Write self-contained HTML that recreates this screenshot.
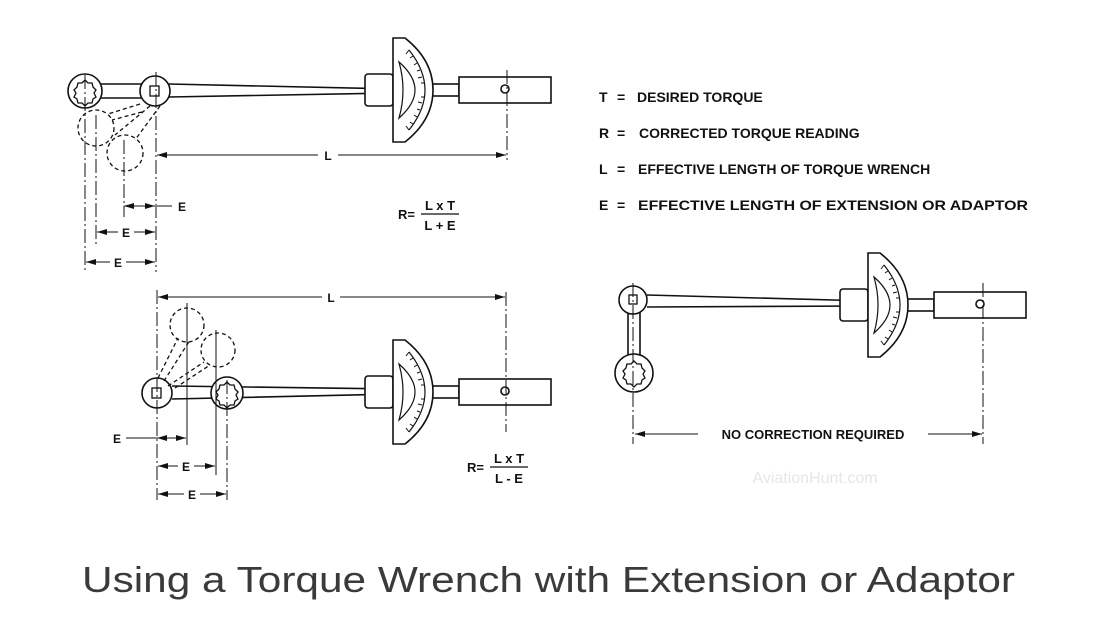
<!DOCTYPE html>
<html><head><meta charset="utf-8"><style>
html,body{margin:0;padding:0;background:#fff;}
svg{display:block;}
</style></head><body>
<svg width="1094" height="621" viewBox="0 0 1094 621" xmlns="http://www.w3.org/2000/svg" font-family="Liberation Sans, Arial, sans-serif">
<defs>
<marker id="ar" viewBox="0 0 10 6" refX="10" refY="3" markerWidth="10" markerHeight="6" orient="auto-start-reverse" markerUnits="userSpaceOnUse"><path d="M0,0 L10,3 L0,6 Z" fill="#111"/></marker>
<g id="body" fill="#fff" stroke="#111" stroke-width="1.6">
  <rect x="-28" y="-16" width="28" height="32" rx="3"/>
  <rect x="38" y="-6" width="28" height="12"/>
  <rect x="66" y="-13" width="92" height="26"/>
  <circle cx="112" cy="-1" r="4"/>
  <path d="M0,-52 L12,-52 Q40,-30 40,0 Q40,30 12,52 L0,52 Z"/>
  <path d="M16,-40 Q32,-20 32,0 Q32,20 16,40" fill="none" stroke-width="1.2"/>
  <path d="M16,-40 l-3,4 M20,-34 l-3,2 M24,-27 l-3,2 M27,-20 l-3,1 M29,-13 l-4,1 M31,-7 l-3,0 M31,7 l-3,0 M29,13 l-4,-1 M27,20 l-3,-1 M24,27 l-3,-2 M20,34 l-3,-2 M16,40 l-3,-4" stroke-width="1"/>
  <path d="M6,-28 Q22,-14 22,0 Q22,14 6,28 Q14,0 6,-28 Z" stroke-width="1.2"/>
</g>
</defs>

<!-- TOP WRENCH -->
<g stroke="#111" stroke-width="1.6" fill="none">
  <path d="M100,84 L142,84 M100,98 L142,98"/>
  <path d="M169,84 L395,89 M169,97 L395,93"/>
  <circle cx="85" cy="91" r="17" fill="#fff"/>
  <path d="M85,80 l3,3 4,0 1,4 3,3 -2,3 2,4 -3,2 -1,4 -4,0 -3,3 -3,-3 -4,0 -1,-4 -3,-2 2,-4 -2,-3 3,-3 1,-4 4,0 z" stroke-width="1.3"/>
  <circle cx="155" cy="91" r="15" fill="#fff"/>
  <rect x="150" y="86" width="9" height="10" stroke-width="1.3"/>
  <line x1="380" y1="91" x2="425" y2="91" stroke-width="1"/>
</g>
<use href="#body" x="393" y="90"/>
<g stroke="#111" stroke-width="1.3" fill="none" stroke-dasharray="4,3">
  <circle cx="96" cy="128" r="18"/>
  <circle cx="125" cy="153" r="18"/>
  <path d="M140,104 L108,114 M150,106 L115,135 M160,106 L135,140 M142,112 L112,120"/>
</g>
<g stroke="#111" stroke-width="1" fill="none">
  <path d="M85,75 L85,272 M96,115 L96,245 M124,140 L124,217 M156,72 L156,272" stroke-dasharray="14,3,2,3"/>
  <path d="M507,70 L507,160" stroke-dasharray="14,3,2,3"/>
  <path d="M318,155 L157,155" marker-end="url(#ar)"/>
  <path d="M338,155 L506,155" marker-end="url(#ar)"/>
  <path d="M124,206 L155,206" marker-start="url(#ar)" marker-end="url(#ar)"/>
  <path d="M157,206 L172,206"/>
  <path d="M118,232 L97,232" marker-end="url(#ar)"/><path d="M134,232 L155,232" marker-end="url(#ar)"/>
  <path d="M110,262 L86,262" marker-end="url(#ar)"/><path d="M126,262 L155,262" marker-end="url(#ar)"/>
</g>
<g font-size="12" fill="#111" text-anchor="middle" font-weight="bold">
  <text x="328" y="160">L</text>
  <text x="182" y="211">E</text>
  <text x="126" y="237">E</text>
  <text x="118" y="267">E</text>
</g>
<g font-size="13" fill="#111" font-weight="bold">
  <text x="398" y="219">R=</text>
  <text x="440" y="210" text-anchor="middle">L x T</text>
  <line x1="421" y1="214" x2="459" y2="214" stroke="#111" stroke-width="1.2"/>
  <text x="440" y="230" text-anchor="middle">L + E</text>
</g>

<!-- BOTTOM-LEFT WRENCH -->
<g stroke="#111" stroke-width="1.6" fill="none">
  <path d="M172,386 L395,389 M172,399 L395,394"/>
  <circle cx="157" cy="393" r="15" fill="#fff"/>
  <rect x="152" y="388" width="9" height="10" stroke-width="1.3"/>
  <circle cx="227" cy="393" r="16" fill="#fff"/>
  <path d="M227,382 l3,3 4,0 1,4 3,3 -2,3 2,4 -3,2 -1,4 -4,0 -3,3 -3,-3 -4,0 -1,-4 -3,-2 2,-4 -2,-3 3,-3 1,-4 4,0 z" stroke-width="1.3"/>
  <line x1="380" y1="391" x2="425" y2="391" stroke-width="1"/>
</g>
<use href="#body" x="393" y="392"/>
<g stroke="#111" stroke-width="1.3" fill="none" stroke-dasharray="4,3">
  <circle cx="187" cy="325" r="17"/>
  <circle cx="218" cy="350" r="17"/>
  <path d="M158,378 L178,338 M164,381 L190,340 M168,386 L204,362 M175,388 L210,365"/>
</g>
<g stroke="#111" stroke-width="1" fill="none">
  <path d="M157,290 L157,500 M227,380 L227,500 M506,292 L506,432" stroke-dasharray="14,3,2,3"/>
  <path d="M187,303 L187,445 M216,330 L216,475"/>
  <path d="M322,297 L158,297" marker-end="url(#ar)"/>
  <path d="M340,297 L505,297" marker-end="url(#ar)"/>
  <path d="M126,438 L157,438"/>
  <path d="M157,438 L186,438" marker-start="url(#ar)" marker-end="url(#ar)"/>
  <path d="M178,466 L158,466" marker-end="url(#ar)"/><path d="M194,466 L215,466" marker-end="url(#ar)"/>
  <path d="M184,494 L158,494" marker-end="url(#ar)"/><path d="M200,494 L226,494" marker-end="url(#ar)"/>
</g>
<g font-size="12" fill="#111" text-anchor="middle" font-weight="bold">
  <text x="331" y="302">L</text>
  <text x="117" y="443">E</text>
  <text x="186" y="471">E</text>
  <text x="192" y="499">E</text>
</g>
<g font-size="13" fill="#111" font-weight="bold">
  <text x="467" y="472">R=</text>
  <text x="509" y="463" text-anchor="middle">L x T</text>
  <line x1="490" y1="467" x2="528" y2="467" stroke="#111" stroke-width="1.2"/>
  <text x="509" y="483" text-anchor="middle">L - E</text>
</g>

<!-- RIGHT WRENCH -->
<g stroke="#111" stroke-width="1.6" fill="none">
  <path d="M628,312 L628,356 M640,312 L640,356"/>
  <path d="M647,295 L870,301 M647,307 L870,306"/>
  <circle cx="633" cy="300" r="14" fill="#fff"/>
  <rect x="629" y="295" width="8" height="9" stroke-width="1.3"/>
  <circle cx="634" cy="373" r="19" fill="#fff"/>
  <path d="M634,361 l3,3 4,0 1,4 3,3 -2,3 2,4 -3,2 -1,4 -4,0 -3,3 -3,-3 -4,0 -1,-4 -3,-2 2,-4 -2,-3 3,-3 1,-4 4,0 z" stroke-width="1.3"/>
  <line x1="855" y1="303" x2="898" y2="303" stroke-width="1"/>
</g>
<use href="#body" x="868" y="305"/>
<g stroke="#111" stroke-width="1" fill="none">
  <path d="M633,283 L633,444 M983,283 L983,444" stroke-dasharray="14,3,2,3"/>
  <path d="M698,434 L635,434" marker-end="url(#ar)"/>
  <path d="M928,434 L982,434" marker-end="url(#ar)"/>
</g>
<text x="813" y="439" font-size="13" fill="#111" text-anchor="middle" font-weight="bold">NO CORRECTION REQUIRED</text>
<text x="815" y="483" font-size="16" fill="#e6e6e6" text-anchor="middle">AviationHunt.com</text>

<!-- LEGEND -->
<g font-size="14" fill="#111" font-weight="bold">
  <text x="599" y="102">T</text><text x="617" y="102">=</text><text x="637" y="102">DESIRED TORQUE</text>
  <text x="599" y="138">R</text><text x="617" y="138">=</text><text x="639" y="138">CORRECTED TORQUE READING</text>
  <text x="599" y="174">L</text><text x="617" y="174">=</text><text x="638" y="174">EFFECTIVE LENGTH OF TORQUE WRENCH</text>
  <text x="599" y="210">E</text><text x="617" y="210">=</text><text x="638" y="210" textLength="390" lengthAdjust="spacingAndGlyphs">EFFECTIVE LENGTH OF EXTENSION OR ADAPTOR</text>
</g>

<text x="82" y="592" font-size="36" fill="#3a3a3a" textLength="933" lengthAdjust="spacingAndGlyphs">Using a Torque Wrench with Extension or Adaptor</text>
</svg>
</body></html>
